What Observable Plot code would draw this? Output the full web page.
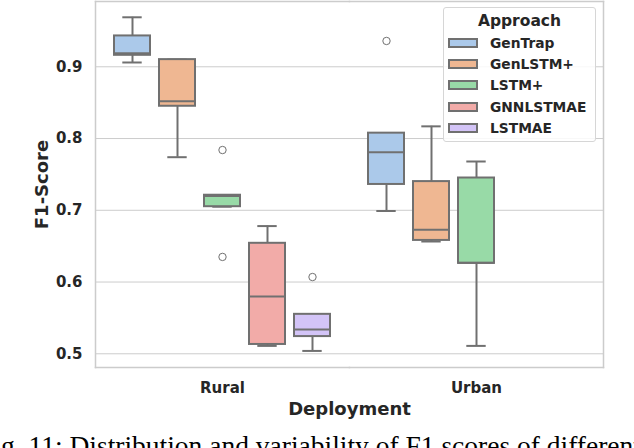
<!DOCTYPE html>
<html>
<head>
<meta charset="utf-8">
<script src="https://cdn.jsdelivr.net/npm/d3@7"></script>
<script src="https://cdn.jsdelivr.net/npm/@observablehq/plot@0.6"></script>
<style>
  html, body { margin: 0; padding: 0; background: #fff; }
  #wrap { position: relative; width: 634px; height: 448px; overflow: hidden; background: #fff; }
  #chart svg { display: block; }
  g[aria-label="y-axis label"], g[aria-label="fx-axis label"] { font-size: 18px; }
  #legend { position: absolute; left: 443px; top: 7px; width: 151px; height: 133px;
    border: 1px solid #d6d6d6; border-radius: 3px; background: rgba(255,255,255,0.85);
    font-family: 'DejaVu Sans', sans-serif; font-weight: bold; color: #262626; }
  #legend .title { position: absolute; left: 0; width: 100%; top: 4px; text-align: center; font-size: 15.5px; line-height: 18px; }
  #legend .row { position: absolute; left: 0; height: 16px; }
  #legend .sw { position: absolute; left: 4px; top: 3px; width: 26px; height: 6px; border: 2px solid #707070; }
  #legend .lab { position: absolute; left: 46px; top: 0; font-size: 13.8px; line-height: 16px; white-space: nowrap; }
  #caption { position: absolute; left: -22px; top: 432px; font-family: 'Liberation Serif', 'Times New Roman', serif;
    font-size: 27.5px; line-height: 1; white-space: nowrap; color: #000; }
</style>
</head>
<body>
<div id="wrap">
  <div id="chart"></div>
  <div id="legend"></div>
  <div id="caption">Fig. 11: Distribution and variability of F1 scores of different approaches</div>
</div>
<script>
const deployments = ["Rural", "Urban"];
const approaches = ["GenTrap", "GenLSTM+", "LSTM+", "GNNLSTMAE", "LSTMAE"];
const palette = ["#abc9ea", "#efb792", "#98daa7", "#f2aba8", "#d3c4f7"];
const yTicks = [0.5, 0.6, 0.7, 0.8, 0.9];

// box summaries
const boxDeployment = ["Rural", "Rural", "Rural", "Rural", "Rural", "Urban", "Urban", "Urban"];
const boxApproach = ["GenTrap", "GenLSTM+", "LSTM+", "GNNLSTMAE", "LSTMAE", "GenTrap", "GenLSTM+", "LSTM+"];
const whiskerLow    = [0.906, 0.774, 0.705, 0.511, 0.504, 0.699, 0.6565, 0.511];
const lowerQuartile = [0.916, 0.845, 0.705, 0.513, 0.524, 0.736, 0.658, 0.626];
const medians       = [0.919, 0.852, 0.720, 0.580, 0.534, 0.781, 0.673, 0.627];
const upperQuartile = [0.943, 0.910, 0.721, 0.654, 0.555, 0.8075, 0.740, 0.745];
const whiskerHigh   = [0.969, 0.910, 0.721, 0.678, 0.555, 0.8075, 0.817, 0.768];

// outliers
const outlierDeployment = ["Rural", "Rural", "Rural", "Urban"];
const outlierApproach = ["LSTM+", "LSTM+", "LSTMAE", "GenTrap"];
const outlierValue = [0.784, 0.635, 0.607, 0.936];

const boxes = boxApproach.map((approach, i) => ({
  deployment: boxDeployment[i], approach,
  lo: whiskerLow[i], q1: lowerQuartile[i], median: medians[i], q3: upperQuartile[i], hi: whiskerHigh[i]
}));
const outliers = outlierValue.map((value, i) => ({
  deployment: outlierDeployment[i], approach: outlierApproach[i], value
}));

const edge = "#707070";
const spine = "#cccccc";

const chart = Plot.plot({
  width: 634,
  height: 420,
  marginLeft: 95,
  marginRight: 31,
  marginTop: 1,
  marginBottom: 53,
  style: { fontFamily: "'DejaVu Sans', sans-serif", fontWeight: "bold", fontSize: "15px", color: "#262626", background: "white" },
  fx: { domain: deployments, padding: 0 },
  x: { domain: approaches, paddingInner: 0.2, paddingOuter: 0.373, axis: null },
  y: { domain: [0.4809, 0.991] },
  color: { domain: approaches, range: palette },
  marks: [
    Plot.gridY(yTicks, { stroke: spine, strokeOpacity: 1, strokeWidth: 1 }),
    Plot.frame({ anchor: "top", stroke: spine, strokeWidth: 1.5 }),
    Plot.frame({ anchor: "bottom", stroke: spine, strokeWidth: 1.5 }),
    Plot.frame({ anchor: "left", facetAnchor: "left", stroke: spine, strokeWidth: 1.5 }),
    Plot.frame({ anchor: "right", facetAnchor: "right", stroke: spine, strokeWidth: 1.5 }),
    Plot.axisY(yTicks, { tickSize: 0, tickPadding: 13, tickFormat: d3.format(".1f"),
      label: "F1-Score", labelArrow: "none", labelAnchor: "center", labelOffset: 60 }),
    Plot.axisFx({ anchor: "bottom", tickSize: 0, tickPadding: 14.5,
      label: "Deployment", labelArrow: "none", labelAnchor: "center", labelOffset: 47.5 }),
    Plot.ruleX(boxes, { x: "approach", fx: "deployment", y1: "lo", y2: "q1", stroke: edge, strokeWidth: 2 }),
    Plot.ruleX(boxes, { x: "approach", fx: "deployment", y1: "q3", y2: "hi", stroke: edge, strokeWidth: 2 }),
    Plot.tickY(boxes, { x: "approach", fx: "deployment", y: "lo", insetLeft: 8.3, insetRight: 8.3, stroke: edge, strokeWidth: 2 }),
    Plot.tickY(boxes, { x: "approach", fx: "deployment", y: "hi", insetLeft: 8.3, insetRight: 8.3, stroke: edge, strokeWidth: 2 }),
    Plot.barY(boxes, { x: "approach", fx: "deployment", y1: "q1", y2: "q3", fill: "approach", stroke: edge, strokeWidth: 2 }),
    Plot.tickY(boxes, { x: "approach", fx: "deployment", y: "median", stroke: edge, strokeWidth: 2 }),
    Plot.dot(outliers, { x: "approach", fx: "deployment", y: "value", r: 3.7, stroke: edge, strokeWidth: 1, fill: "white" })
  ]
});
document.getElementById("chart").appendChild(chart);

// legend
const legend = document.getElementById("legend");
const t = document.createElement("div");
t.className = "title";
t.textContent = "Approach";
legend.appendChild(t);
approaches.forEach((a, i) => {
  const row = document.createElement("div");
  row.className = "row";
  row.style.top = (27 + 21.2 * i) + "px";
  const sw = document.createElement("div");
  sw.className = "sw";
  sw.style.background = palette[i];
  const lab = document.createElement("div");
  lab.className = "lab";
  lab.textContent = a;
  row.appendChild(sw);
  row.appendChild(lab);
  legend.appendChild(row);
});
</script>
</body>
</html>
